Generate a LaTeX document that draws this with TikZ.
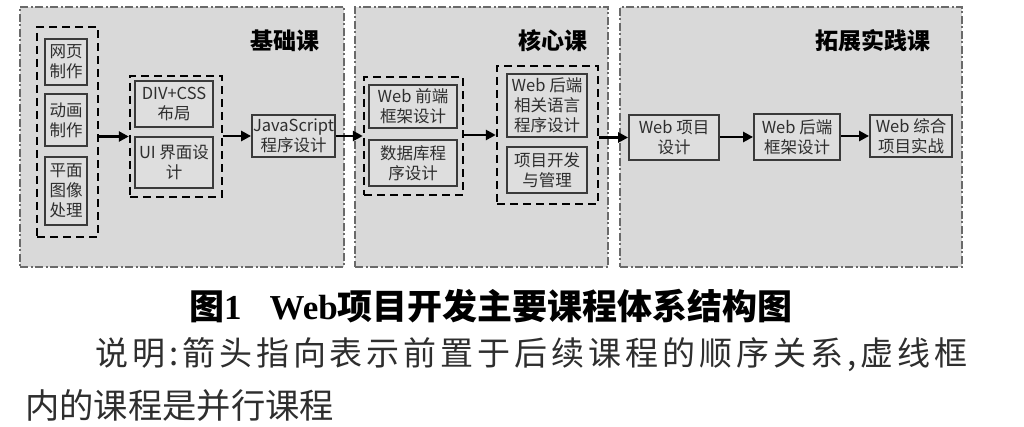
\documentclass[tikz,border=0pt]{standalone}
\usepackage{fontspec}
\setmainfont{Noto Sans CJK SC}
\newfontfamily\tnr{Liberation Serif}
\usetikzlibrary{arrows.meta}
\makeatletter
\newcommand\spreadline[2]{\hbox to #1{\let\spsep\relax\@tfor\spch:=#2\do{\spsep\spch\let\spsep\hfill}}}
\makeatother
\definecolor{panelgray}{HTML}{D9D9D9}
\definecolor{panelline}{HTML}{6A6A6A}
\definecolor{boxgray}{HTML}{DEDEDE}
\definecolor{boxline}{HTML}{3A3A3A}
\definecolor{textgray}{HTML}{2E2E2E}
\begin{document}
\begin{tikzpicture}[x=1pt,y=-1pt,
  panel/.style={draw=panelline, fill=panelgray, line width=1.6pt, dash pattern=on 8pt off 2.5pt on 2pt off 2.5pt, inner sep=0},
  grp/.style={draw=black, line width=2.4pt, dash pattern=on 8pt off 5pt, inner sep=0},
  crs/.style={draw=boxline, fill=boxgray, line width=1.8pt, inner sep=0, align=center, text=textgray, font=\fontsize{16.5}{20}\selectfont},
  ttl/.style={inner sep=0, font=\bfseries\fontsize{23}{23}\selectfont, text=black},
  arr/.style={line width=2.6pt, -{Triangle[length=10pt,width=10pt]}},
  captxt/.style={inner sep=0, anchor=west}]
\useasboundingbox (0,0) rectangle (1024,427);
\fill[white] (0,0) rectangle (1024,427);
% panels
\node[panel, minimum width=324pt, minimum height=260pt] (p1) at (182,137) {};
\node[panel, minimum width=253pt, minimum height=260pt] (p2) at (481.5,137) {};
\node[panel, minimum width=342pt, minimum height=260pt] (p3) at (791,137) {};
\node[ttl] (t1) at (285,41) {基础课};
\node[ttl] (t2) at (553,41) {核心课};
\node[ttl] (t3) at (873,41) {拓展实践课};
% groups
\node[grp, minimum width=61pt, minimum height=210pt] (g1) at (67.5,132) {};
\node[grp, minimum width=92pt, minimum height=121pt] (g2) at (176,136.5) {};
\node[grp, minimum width=99pt, minimum height=118pt] (g3) at (413.5,136) {};
\node[grp, minimum width=101pt, minimum height=138pt] (g4) at (547.5,135) {};
% courses
\node[crs, minimum width=42pt, minimum height=46pt] (c1) at (66,62) {网页\\制作};
\node[crs, minimum width=42pt, minimum height=52pt] (c2) at (66,120) {动画\\制作};
\node[crs, minimum width=42pt, minimum height=68pt] (c3) at (66,191) {平面\\图像\\处理};
\node[crs, minimum width=78pt, minimum height=46pt] (c4) at (174,104) {DIV+CSS\\布局};
\node[crs, minimum width=78pt, minimum height=51pt] (c5) at (174,162.5) {UI 界面设\\计};
\node[crs, minimum width=83pt, minimum height=42pt] (c6) at (293.5,136) {JavaScript\\程序设计};
\node[crs, minimum width=88pt, minimum height=43pt] (c7) at (413,106.5) {Web 前端\\框架设计};
\node[crs, minimum width=88pt, minimum height=46pt] (c8) at (413,163) {数据库程\\序设计};
\node[crs, minimum width=80pt, minimum height=63pt] (c9) at (547,105.5) {Web 后端\\相关语言\\程序设计};
\node[crs, minimum width=80pt, minimum height=46pt] (c10) at (547,170) {项目开发\\与管理};
\node[crs, minimum width=90pt, minimum height=45pt] (c11) at (674,137.5) {Web 项目\\设计};
\node[crs, minimum width=86pt, minimum height=46pt] (c12) at (797,137) {Web 后端\\框架设计};
\node[crs, minimum width=82pt, minimum height=42pt] (c13) at (911,136) {Web 综合\\项目实战};
% arrows
\draw[arr] (g1.east |- g2.west) -- (g2.west);
\draw[arr] (g2.east |- c6.west) -- (c6.west);
\draw[arr] (c6.east) -- (g3.west);
\draw[arr] (g3.east |- g4.west) -- (g4.west);
\draw[arr] (g4.east |- c11.west) -- (c11.west);
\draw[arr] (c11.east |- c12.west) -- (c12.west);
\draw[arr] (c12.east |- c13.west) -- (c13.west);
% caption
\node[captxt] (l1) at (189,306) {\fontsize{35}{35}\selectfont\bfseries 图{\tnr 1}\hspace{28pt}{\tnr Web}项目开发主要课程体系结构图};
\node[captxt, text=textgray] (l2) at (95,355) {\fontsize{33}{33}\selectfont\spreadline{872pt}{说明:箭头指向表示前置于后续课程的顺序关系,虚线框}};
\node[captxt, text=textgray] (l3) at (25,406) {\fontsize{34.3}{34}\selectfont 内的课程是并行课程};
\end{tikzpicture}
\end{document}
